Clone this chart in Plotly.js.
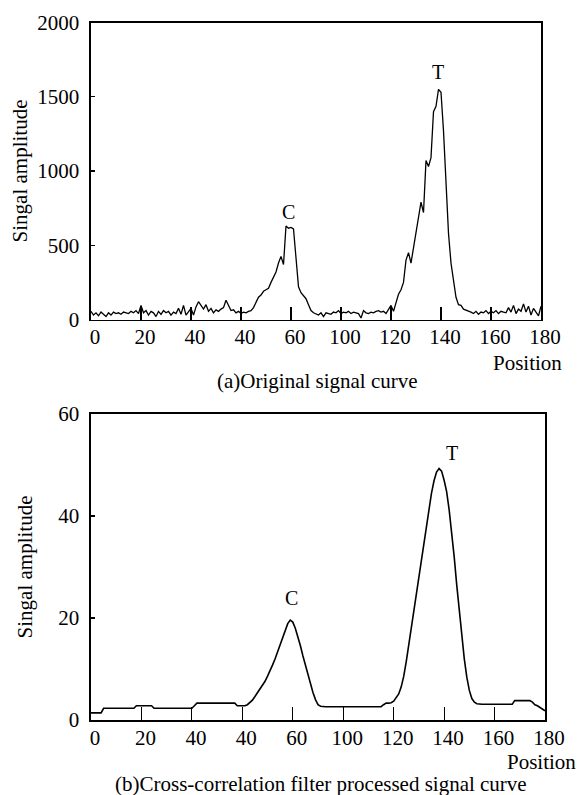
<!DOCTYPE html>
<html>
<head>
<meta charset="utf-8">
<script src="https://cdn.plot.ly/plotly-3.0.1.min.js"></script>
<style>html,body{margin:0;padding:0;background:#fff;}#chart{width:578px;height:795px;}</style>
</head>
<body>
<div id="chart"></div>
<script>
// Position (axis units) shared by both curves
const position = [
0,1,2,3,4,5,6,7,8,9,10,11,12,13,14,15,16,17,18,19,
20,21,22,23,24,25,26,27,28,29,30,31,32,33,34,35,36,37,38,39,
40,41,42,43,44,45,46,47,48,49,50,51,52,53,54,55,56,57,58,59,
60,61,62,63,64,65,66,67,68,69,70,71,72,73,74,75,76,77,78,79,
80,81,82,83,84,85,86,87,88,89,90,91,92,93,94,95,96,97,98,99,
100,101,102,103,104,105,106,107,108,109,110,111,112,113,114,115,116,117,118,119,
120,121,122,123,124,125,126,127,128,129,130,131,132,133,134,135,136,137,138,139,
140,141,142,143,144,145,146,147,148,149,150,151,152,153,154,155,156,157,158,159,
160,161,162,163,164,165,166,167,168,169,170,171,172,173,174,175,176,177,178,179,180];

// (a) Original signal amplitude
const originalSignal = [
55,30,45,25,50,35,20,45,30,50,40,45,35,50,45,40,55,45,60,40,
95,45,60,30,55,45,20,55,35,60,45,55,30,50,40,75,35,95,30,55,
75,30,85,120,95,70,100,55,75,45,65,55,70,80,130,90,60,65,45,55,
40,50,45,55,60,80,110,150,165,190,200,210,250,280,320,380,425,370,630,615,
620,610,430,220,180,160,140,100,60,45,40,30,45,20,45,40,35,50,45,60,
40,50,45,55,40,50,45,40,10,60,45,40,50,45,55,60,50,55,40,70,
95,55,120,170,200,250,400,450,380,480,580,690,790,720,1070,1030,1090,1400,1435,1550,
1530,1270,900,580,380,260,150,100,95,70,65,60,50,40,55,35,50,45,60,40,
55,45,60,40,55,50,45,80,50,95,40,70,55,105,50,90,30,75,45,25,90];

// (b) Cross-correlation filtered amplitude
const filteredSignal = [
1.4,1.4,1.4,1.4,1.4,2.3,2.3,2.3,2.3,2.3,2.3,2.3,2.3,2.3,2.3,2.3,2.3,2.3,2.8,2.8,
2.8,2.8,2.8,2.8,2.8,2.3,2.3,2.3,2.3,2.3,2.3,2.3,2.3,2.3,2.3,2.3,2.3,2.3,2.3,2.3,
2.3,2.8,3.3,3.3,3.3,3.3,3.3,3.3,3.3,3.3,3.3,3.3,3.3,3.3,3.3,3.3,3.3,3.3,2.8,2.8,
2.8,2.8,3.0,3.4,3.9,4.6,5.3,6.0,6.8,7.6,8.6,9.6,10.8,12.0,13.3,14.8,16.2,17.6,18.9,19.6,
19.2,18.0,16.5,14.6,12.6,10.8,8.9,7.0,5.4,4.0,3.0,2.7,2.6,2.6,2.6,2.6,2.6,2.6,2.6,2.6,
2.6,2.6,2.6,2.6,2.6,2.6,2.6,2.6,2.6,2.6,2.6,2.6,2.6,2.6,2.6,2.6,3.0,3.3,3.3,3.4,
3.7,4.3,5.1,6.5,8.6,11.5,14.8,18.2,21.6,25.1,28.5,31.9,35.2,38.5,41.6,44.5,46.9,48.6,49.3,48.8,
47.0,44.8,41.2,37.0,32.0,26.5,21.5,16.5,12.0,8.4,5.8,4.2,3.5,3.2,3.1,3.1,3.1,3.1,3.1,3.1,
3.1,3.1,3.1,3.1,3.1,3.1,3.1,3.1,3.8,3.8,3.8,3.8,3.8,3.8,3.8,3.5,3.0,2.8,2.5,2.1,1.8];

// Tick values and their (as printed) labels
const xTickVals = [0,20,40,60,80,100,120,140,160,180];
const xTickText = ["0","20","40","40","60","100","120","140","160","180"];
const yTickValsA = [0,500,1000,1500,2000];
const yTickValsB = [0,20,40,60];

// Peak labels
const peakNames = ["C","T"];
const peakPosA = [78.8,138.8];
const peakAmpA = [726,1667];
const peakPosB = [79.6,143.1];
const peakAmpB = [23.9,52.4];

const serif = 'Liberation Serif, Times New Roman, Times, serif';
const black = '#000000';

const traces = [
  {x: position, y: originalSignal, type: 'scatter', mode: 'lines', xaxis: 'x', yaxis: 'y',
   line: {color: black, width: 1.3}, hoverinfo: 'x+y'},
  {x: position, y: filteredSignal, type: 'scatter', mode: 'lines', xaxis: 'x2', yaxis: 'y2',
   line: {color: black, width: 1.6}, hoverinfo: 'x+y'}
];

function xAxis(domain, anchor) {
  return {
    domain: domain, anchor: anchor, range: [0, 180],
    tickmode: 'array', tickvals: xTickVals, ticktext: xTickText,
    ticks: 'inside', ticklen: 13, tickwidth: 1.2, tickcolor: black,
    showline: true, linecolor: black, linewidth: 1.6, mirror: true,
    showgrid: false, zeroline: false, fixedrange: true,
    tickfont: {family: serif, size: 21, color: black},
    ticklabelshift: 4, ticklabelstandoff: -2
  };
}
function yAxis(domain, anchor, range, vals, standoff) {
  return {
    domain: domain, anchor: anchor, range: range,
    tickmode: 'array', tickvals: vals,
    ticks: 'inside', ticklen: 4, tickwidth: 1.4, tickcolor: black,
    showline: true, linecolor: black, linewidth: 1.6, mirror: true,
    showgrid: false, zeroline: false, fixedrange: true,
    tickfont: {family: serif, size: 21, color: black},
    ticklabelstandoff: 6,
    title: {text: 'Singal amplitude', font: {family: serif, size: 21, color: black}, standoff: standoff}
  };
}

const annotations = [];
peakNames.forEach((n, i) => {
  annotations.push({x: peakPosA[i], y: peakAmpA[i], xref: 'x', yref: 'y', text: n, showarrow: false,
    font: {family: serif, size: 20, color: black}});
  annotations.push({x: peakPosB[i], y: peakAmpB[i], xref: 'x2', yref: 'y2', text: n, showarrow: false,
    font: {family: serif, size: 20, color: black}});
});
annotations.push(
  {x: 527/578, y: 1 - 363/795, xref: 'paper', yref: 'paper', text: 'Position', showarrow: false,
   xanchor: 'center', yanchor: 'middle', font: {family: serif, size: 21, color: black}},
  {x: 541/578, y: 1 - 762/795, xref: 'paper', yref: 'paper', text: 'Position', showarrow: false,
   xanchor: 'center', yanchor: 'middle', font: {family: serif, size: 21, color: black}},
  {x: 317/578, y: 1 - 381/795, xref: 'paper', yref: 'paper', text: '(a)Original signal curve', showarrow: false,
   xanchor: 'center', yanchor: 'middle', font: {family: serif, size: 21, color: black}},
  {x: 321/578, y: 1 - 784/795, xref: 'paper', yref: 'paper', text: '(b)Cross-correlation filter processed signal curve', showarrow: false,
   xanchor: 'center', yanchor: 'middle', font: {family: serif, size: 21, color: black}}
);

const layout = {
  width: 578, height: 795,
  margin: {l: 0, r: 0, t: 0, b: 0, pad: 0},
  paper_bgcolor: '#ffffff', plot_bgcolor: '#ffffff',
  showlegend: false,
  font: {family: serif, color: black},
  xaxis: xAxis([91/578, 541/578], 'y'),
  yaxis: yAxis([1 - 319.5/795, 1 - 22.5/795], 'x', [0, 2000], yTickValsA, 4),
  xaxis2: xAxis([91/578, 545/578], 'y2'),
  yaxis2: yAxis([1 - 720/795, 1 - 414/795], 'x2', [0, 60], yTickValsB, 20),
  annotations: annotations
};

Plotly.newPlot('chart', traces, layout, {staticPlot: true, displayModeBar: false});
</script>
</body>
</html>
